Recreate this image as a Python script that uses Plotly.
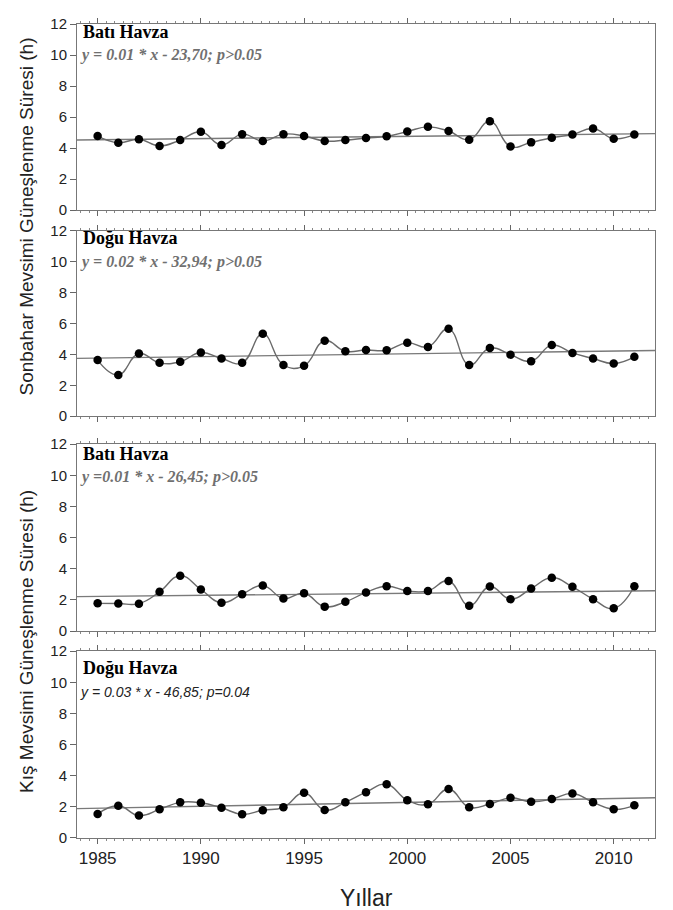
import numpy as np
import plotly.graph_objects as go

years = list(range(1985, 2012))

sonbahar_bati = [4.78, 4.35, 4.57, 4.14, 4.52, 5.05, 4.20, 4.90, 4.46, 4.90, 4.78, 4.46,
                 4.52, 4.65, 4.76, 5.07, 5.37, 5.10, 4.54, 5.73, 4.10, 4.37, 4.67, 4.88,
                 5.26, 4.61, 4.88]
sonbahar_dogu = [3.63, 2.67, 4.05, 3.45, 3.52, 4.12, 3.73, 3.45, 5.33, 3.31, 3.26, 4.88,
                 4.20, 4.28, 4.26, 4.75, 4.48, 5.65, 3.31, 4.41, 3.98, 3.55, 4.60, 4.09,
                 3.73, 3.41, 3.84]
kis_bati = [1.78, 1.77, 1.76, 2.52, 3.56, 2.67, 1.82, 2.37, 2.92, 2.10, 2.43, 1.57,
            1.88, 2.48, 2.88, 2.58, 2.58, 3.22, 1.63, 2.86, 2.05, 2.73, 3.43, 2.84,
            2.05, 1.46, 2.88]
kis_dogu = [1.54, 2.07, 1.44, 1.84, 2.29, 2.26, 1.94, 1.52, 1.78, 1.97, 2.90, 1.80,
            2.29, 2.94, 3.45, 2.43, 2.16, 3.15, 1.97, 2.18, 2.58, 2.32, 2.50, 2.86,
            2.29, 1.84, 2.10]

panel_names = ["Batı Havza", "Doğu Havza", "Batı Havza", "Doğu Havza"]
equations = ["y = 0.01 * x - 23,70; p>0.05",
             "y = 0.02 * x - 32,94; p>0.05",
             "y =0.01 * x - 26,45; p>0.05",
             "y = 0.03 * x - 46,85; p=0.04"]
series = [sonbahar_bati, sonbahar_dogu, kis_bati, kis_dogu]
x_ticks = [1985, 1990, 1995, 2000, 2005, 2010]
y_ticks = [0, 2, 4, 6, 8, 10, 12]
x_range = [1984, 2012]

domains = [[0.7713, 1.0], [0.5182, 0.7461], [0.2542, 0.4838], [0.0, 0.2296]]
label_y = [11.5, 11.5, 11.4, 10.9]
eq_y = [10.0, 10.0, 9.9, 9.4]

fig = go.Figure()
layout = {}
annotations = []

for i, vals in enumerate(series):
    n = i + 1
    xa = "x" if n == 1 else f"x{n}"
    ya = "y" if n == 1 else f"y{n}"
    # trend line (least squares fit)
    k, b = np.polyfit(years, vals, 1)
    fig.add_trace(go.Scatter(x=x_range, y=[k * x_range[0] + b, k * x_range[1] + b],
                             mode="lines", line=dict(color="#7a7a7a", width=1.4),
                             xaxis=xa, yaxis=ya, showlegend=False, hoverinfo="skip"))
    fig.add_trace(go.Scatter(x=years, y=vals, mode="lines+markers",
                             line=dict(color="#6a6a6a", width=1.4, shape="spline", smoothing=1.3),
                             marker=dict(color="black", size=8.5),
                             xaxis=xa, yaxis=ya, showlegend=False))
    xkey = "xaxis" if n == 1 else f"xaxis{n}"
    ykey = "yaxis" if n == 1 else f"yaxis{n}"
    layout[xkey] = dict(domain=[0, 1], anchor=ya, range=x_range, tickvals=x_ticks,
                        showticklabels=(n == 4), ticks="outside", ticklen=5,
                        tickcolor="#666", showline=True, linecolor="#777", linewidth=1,
                        mirror="allticks", showgrid=False, zeroline=False,
                        tickfont=dict(family="Liberation Sans, Arial", size=17, color="#222"),
                        minor=dict(dtick=5/12, tick0=1985, ticks="outside", ticklen=2,
                                   tickcolor="#888", showgrid=False))
    layout[ykey] = dict(domain=domains[i], anchor=xa, range=[0, 12], tickvals=y_ticks,
                        ticks="outside", ticklen=6, tickcolor="#666", showline=True,
                        linecolor="#777", linewidth=1, mirror=True, showgrid=False,
                        zeroline=False,
                        tickfont=dict(family="Liberation Sans, Arial", size=15, color="#222"))
    annotations.append(dict(xref=f"{xa} domain", yref=ya, x=0.007, y=label_y[i],
                            xanchor="left", yanchor="middle", showarrow=False,
                            text=f"<b>{panel_names[i]}</b>",
                            font=dict(family="Liberation Serif, Times New Roman", size=18,
                                      color="black")))
    if n < 4:
        eq_font = dict(family="Liberation Serif, Times New Roman", size=16, color="#707070")
        eq_text = f"<b><i>{equations[i]}</i></b>"
    else:
        eq_font = dict(family="Liberation Sans, Arial", size=14, color="#222")
        eq_text = f"<i>{equations[i]}</i>"
    annotations.append(dict(xref=f"{xa} domain", yref=ya, x=0.002, y=eq_y[i],
                            xanchor="left", yanchor="middle", showarrow=False,
                            text=eq_text, font=eq_font))

title_font = dict(family="Liberation Sans, Arial", size=19, color="#222")
annotations.append(dict(xref="paper", yref="paper", x=-0.0865, y=0.7635, textangle=-90,
                        xanchor="center", yanchor="middle", showarrow=False,
                        text="Sonbahar Mevsimi Güneşlenme Süresi (h)", font=title_font))
annotations.append(dict(xref="paper", yref="paper", x=-0.0865, y=0.2409, textangle=-90,
                        xanchor="center", yanchor="middle", showarrow=False,
                        text="Kış Mevsimi Güneşlenme Süresi (h)", font=title_font))
annotations.append(dict(xref="paper", yref="paper", x=0.5, y=-0.055,
                        xanchor="center", yanchor="top", showarrow=False,
                        text="Yıllar", font=dict(family="Liberation Sans, Arial", size=23,
                                                  color="#222")))

# page body has an 8px default margin, so the figure is sized to compensate
fig.update_layout(width=665, height=902, margin=dict(l=69, r=18, t=7, b=72),
                  plot_bgcolor="white", paper_bgcolor="white",
                  annotations=annotations, **layout)

fig.write_html("out.html")
